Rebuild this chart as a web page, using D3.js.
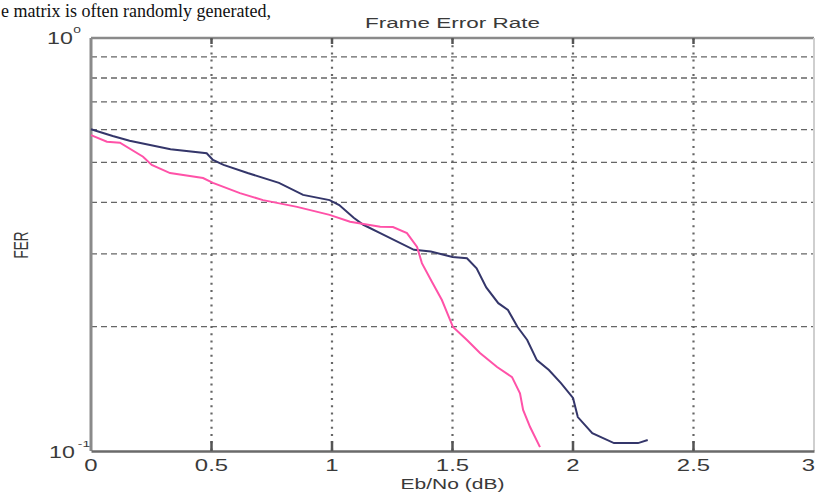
<!DOCTYPE html>
<html>
<head>
<meta charset="utf-8">
<script src="https://cdn.jsdelivr.net/npm/d3@7"></script>
<style>
  body { margin: 0; background: #fff; }
  svg { display: block; }
  text { font-family: "Liberation Sans", Arial, sans-serif; fill: #3a3a3a; }
</style>
</head>
<body>
<svg id="chart" width="816" height="493"></svg>
<script>
// Frame error rate vs Eb/No, two decoders
const xTicks = [0, 0.5, 1, 1.5, 2, 2.5, 3]
const xTickLabels = ["0", "0.5", "1", "1.5", "2", "2.5", "3"]
const yGrid = [0.2, 0.3, 0.4, 0.5, 0.6, 0.7, 0.8, 0.9]

const navyEbNo = [0, 0.09, 0.16, 0.33, 0.48, 0.506, 0.55, 0.65, 0.78, 0.88, 0.99, 1.03, 1.09, 1.13, 1.2, 1.34, 1.41, 1.5, 1.56, 1.6, 1.64, 1.69, 1.73, 1.77, 1.81, 1.85, 1.9, 1.95, 2.0, 2.02, 2.08, 2.17, 2.27, 2.31]
const navyFER = [0.601, 0.579, 0.564, 0.538, 0.526, 0.507, 0.493, 0.471, 0.446, 0.417, 0.405, 0.394, 0.367, 0.353, 0.337, 0.307, 0.304, 0.295, 0.293, 0.277, 0.249, 0.228, 0.2195, 0.1996, 0.1857, 0.166, 0.157, 0.146, 0.1344, 0.1208, 0.1105, 0.1045, 0.1045, 0.1063]

const pinkEbNo = [0, 0.066, 0.12, 0.216, 0.252, 0.328, 0.465, 0.506, 0.618, 0.714, 0.855, 0.99, 1.075, 1.2, 1.253, 1.311, 1.353, 1.373, 1.415, 1.456, 1.502, 1.56, 1.614, 1.685, 1.747, 1.78, 1.793, 1.822, 1.863]
const pinkFER = [0.582, 0.561, 0.558, 0.516, 0.493, 0.471, 0.458, 0.446, 0.421, 0.405, 0.39, 0.373, 0.359, 0.349, 0.3485, 0.337, 0.312, 0.285, 0.2566, 0.232, 0.1996, 0.1857, 0.1727, 0.1597, 0.151, 0.138, 0.1257, 0.1143, 0.1022]

let svg = d3.select("#chart")
let plotL = 91, plotR = 814, plotT = 38, plotB = 451
let sx = 1.45 // the picture is stretched sideways, so is its text

let x = d3.scaleLinear().domain([0, 3]).range([plotL, plotR])
let y = d3.scaleLog().domain([0.1, 1]).range([plotB, plotT])

// stretched text helper
function label(str, px, py, size, anchor, rot) {
  let g = svg.append("g")
    .attr("transform", "translate(" + px + "," + py + ") scale(" + sx + ",1)" + (rot ? " rotate(" + rot + ")" : ""))
  return g.append("text")
    .attr("text-anchor", anchor || "middle")
    .style("font-size", size + "px")
    .text(str)
}

// bit of the surrounding document above the figure
svg.append("text")
  .attr("x", 1).attr("y", 17)
  .style("font-family", "'Liberation Serif', 'Times New Roman', serif")
  .style("font-size", "18px")
  .style("fill", "#111")
  .text("e matrix is often randomly generated,")

// grid
svg.append("g").selectAll("line")
  .data(yGrid).enter().append("line")
    .attr("x1", plotL).attr("x2", plotR)
    .attr("y1", d => y(d)).attr("y2", d => y(d))
    .attr("stroke", "#666").attr("stroke-width", 1.3)
    .attr("stroke-dasharray", "6,4")

svg.append("g").selectAll("line")
  .data(xTicks.slice(1, -1)).enter().append("line")
    .attr("x1", d => x(d)).attr("x2", d => x(d))
    .attr("y1", plotT).attr("y2", plotB)
    .attr("stroke", "#666").attr("stroke-width", 2.2)
    .attr("stroke-dasharray", "2,5.2")

// frame
svg.append("line").attr("x1", plotL).attr("x2", plotR).attr("y1", plotT).attr("y2", plotT)
  .attr("stroke", "#8a8a8a").attr("stroke-width", 2.5)
svg.append("line").attr("x1", plotR).attr("x2", plotR).attr("y1", plotT).attr("y2", plotB)
  .attr("stroke", "#cfcfcf").attr("stroke-width", 2)
svg.append("line").attr("x1", plotL).attr("x2", plotL).attr("y1", plotT).attr("y2", plotB)
  .attr("stroke", "#8a8a8a").attr("stroke-width", 3)

// bottom axis with ticks
let xaxis = d3.axisBottom(x).tickValues(xTicks).tickSize(0).tickFormat("")
let ax = svg.append("g").attr("transform", "translate(0," + plotB + ")").call(xaxis)
ax.select(".domain").attr("stroke", "#6a6a6a").attr("stroke-width", 2.5)

svg.append("g").selectAll("line")
  .data(xTicks.slice(1, -1)).enter().append("line")
    .attr("x1", d => x(d)).attr("x2", d => x(d))
    .attr("y1", plotB - 10).attr("y2", plotB)
    .attr("stroke", "#555").attr("stroke-width", 2.5)
svg.append("g").selectAll("line")
  .data(xTicks.slice(1, -1)).enter().append("line")
    .attr("x1", d => x(d)).attr("x2", d => x(d))
    .attr("y1", plotT).attr("y2", plotT + 6)
    .attr("stroke", "#555").attr("stroke-width", 2.5)

// last label would fall off the right edge, keep it inside
xTicks.forEach((t, i) => {
  if (i === xTicks.length - 1) label(xTickLabels[i], 815, 471, 16.5, "end")
  else label(xTickLabels[i], x(t), 471, 16.5)
})

// y tick labels 10^0 and 10^-1
label("10", 60, 44, 16)
svg.append("g").attr("transform", "translate(77,33) scale(" + sx + ",1)")
  .append("text").attr("text-anchor", "middle").style("font-size", "9.5px").text("0")
label("10", 62, 458, 16)
svg.append("g").attr("transform", "translate(84,447) scale(" + sx + ",1)")
  .append("text").attr("text-anchor", "middle").style("font-size", "9.5px").text("-1")

// curves
let line = d3.line().x(d => x(d[0])).y(d => y(d[1]))
let navy = navyEbNo.map((v, i) => [v, navyFER[i]])
let pink = pinkEbNo.map((v, i) => [v, pinkFER[i]])

svg.append("path").datum(navy).attr("d", line)
  .attr("fill", "none").attr("stroke", "#34366a").attr("stroke-width", 2)
svg.append("path").datum(pink).attr("d", line)
  .attr("fill", "none").attr("stroke", "#ff52a8").attr("stroke-width", 2)

// titles
label("Frame Error Rate", (plotL + plotR) / 2, 28, 15.5)
label("Eb/No (dB)", (plotL + plotR) / 2, 489, 14.5)
label("FER", 28, 245, 13.5, "middle", -90)
</script>
</body>
</html>
